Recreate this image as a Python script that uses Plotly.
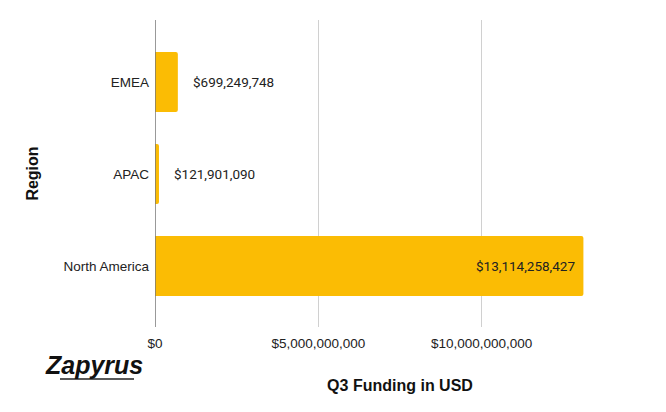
import plotly.graph_objects as go

regions = ["North America", "APAC", "EMEA"]
funding = [13114258427, 121901090, 699249748]
x_tick_vals = [0, 5e9, 10e9, 15e9]
x_tick_text = ["$0", "$5,000,000,000", "$10,000,000,000", ""]

bar_color = "#FBBC04"

# plot area in pixels
PL, PR, PT, PB = 155, 645, 20, 327


def px_x(px):
    return (px - PL) / (PR - PL)


def px_y(py):
    return (PB - py) / (PB - PT)


fig = go.Figure()
fig.add_trace(go.Bar(
    y=regions, x=funding, orientation="h",
    marker=dict(color=bar_color, cornerradius=2, line=dict(width=0)),
    width=0.65, hoverinfo="skip",
))

for r, v in zip(regions, funding):
    inside = v > 5e9
    fig.add_annotation(
        x=v, y=r, xref="x", yref="y",
        text="${:,}".format(v),
        showarrow=False,
        xanchor="right" if inside else "left",
        xshift=-6 if inside else 13,
        font=dict(family="Roboto", size=13.5, color="#222222"),
    )

# logo
fig.add_annotation(
    x=px_x(43), y=px_y(365), xref="paper", yref="paper",
    xanchor="left", yanchor="middle", showarrow=False,
    text="<b><i>Zapyrus</i></b>",
    font=dict(family="Liberation Sans", size=25, color="#111111"),
)
fig.add_shape(type="line", xref="paper", yref="paper",
              x0=px_x(60), x1=px_x(134), y0=px_y(379), y1=px_y(379),
              line=dict(color="#222222", width=1.5))

fig.update_layout(
    width=666, height=412,
    margin=dict(l=PL, r=666 - PR, t=PT, b=412 - PB),
    paper_bgcolor="white", plot_bgcolor="white",
    showlegend=False,
    font=dict(family="Liberation Sans", size=13.5, color="#222222"),
    xaxis=dict(
        range=[0, 15e9], tickvals=x_tick_vals, ticktext=x_tick_text,
        showgrid=True, gridcolor="#d0d0d0", gridwidth=1,
        zeroline=False, showline=False, ticks="",
        ticklabelstandoff=6,
        tickfont=dict(family="Liberation Sans", size=13.5, color="#222222"),
        title=dict(text="<b>Q3 Funding in USD</b>", standoff=30,
                   font=dict(family="Liberation Sans", size=16, color="#111111")),
        fixedrange=True,
    ),
    yaxis=dict(
        range=[-0.663, 2.674],
        categoryorder="array", categoryarray=regions,
        showgrid=False, zeroline=False, showline=False, ticks="",
        ticklabelstandoff=5,
        tickfont=dict(family="Liberation Sans", size=13.5, color="#222222"),
        title=dict(text="<b>Region</b>", standoff=20,
                   font=dict(family="Liberation Sans", size=16, color="#111111")),
        fixedrange=True,
    ),
)
# zero axis line
fig.add_shape(type="line", xref="x", yref="paper", x0=0, x1=0, y0=0, y1=1,
              line=dict(color="#777777", width=1.5), layer="above")

fig.write_html("out.html")
